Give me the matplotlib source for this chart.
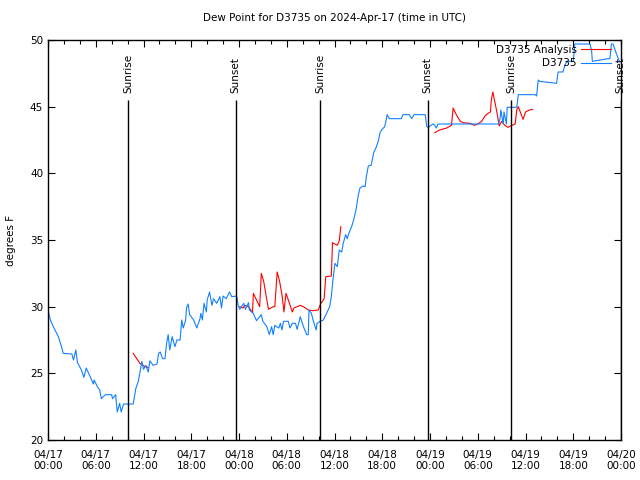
import numpy as np
import matplotlib
matplotlib.use("Agg")
import matplotlib.pyplot as plt

# hours since 04/17 00:00 UTC, dew point in degrees F
obs_hours = [0.0, 0.3, 0.67, 1.3, 1.7, 1.9, 3.0, 3.2, 3.5, 3.7, 4.2, 4.5, 4.8, 5.3, 5.7, 5.8,
             6.2, 6.5, 6.7, 7.2, 8.0, 8.1, 8.5, 8.7, 9.0, 9.2, 9.5, 10.7, 11.05, 11.35, 11.6,
             11.8, 12.0, 12.3, 12.6, 12.8, 13.2, 13.7, 13.9, 14.1, 14.4, 14.7, 14.9, 15.1,
             15.3, 15.6, 15.95, 16.2, 16.6, 16.8, 17.0, 17.3, 17.4, 17.6, 17.8, 18.3, 18.7,
             19.1, 19.2, 19.4, 19.6, 19.9, 20.0, 20.3, 20.6, 20.8, 21.2, 21.6, 21.8, 22.0,
             22.4, 22.8, 23.1, 23.7, 23.9, 24.1, 24.3, 24.6, 24.8, 25.2, 25.3, 25.8, 26.2,
             26.8, 27.0, 27.5, 27.8, 28.1, 28.3, 28.5, 29.0, 29.2, 29.4, 29.6, 30.2, 30.4,
             30.7, 31.1, 31.3, 31.5, 31.7, 32.1, 32.5, 32.7, 32.8, 33.1, 33.3, 33.7, 33.8,
             34.2, 34.6, 34.8, 35.0, 35.2, 35.4, 35.6, 35.8, 36.05, 36.35, 36.6, 36.9, 37.1,
             37.4, 37.6, 37.8, 38.15, 38.4, 38.7, 39.0, 39.2, 39.6, 39.85, 40.0, 40.25, 40.6,
             40.95, 41.2, 41.5, 41.7, 41.9, 42.3, 42.5, 42.6, 42.9, 44.4, 44.6, 45.4, 45.7,
             46.0, 47.4, 47.6, 47.8, 48.1, 48.4, 48.6, 48.8, 49.0, 56.6, 56.8, 56.9, 57.2,
             57.3, 57.6, 57.7, 58.9, 59.1, 61.2, 61.4, 61.6, 61.8, 63.9, 64.1, 64.7, 64.95,
             65.2, 66.0, 66.2, 68.1, 68.3, 68.4, 70.4, 70.6, 70.8, 71.0, 71.4, 71.8]
obs_dewpt = [29.75, 29.0, 28.5, 27.75, 27.0, 26.5, 26.45, 26.0, 26.75, 25.8, 25.25, 24.7, 25.4,
             24.75, 24.2, 24.5, 24.0, 23.75, 23.1, 23.4, 23.4, 23.1, 23.4, 22.1, 22.75, 22.1,
             22.7, 22.7, 23.9, 24.4, 25.25, 25.9, 25.3, 25.6, 25.1, 25.95, 25.6, 25.7, 26.5,
             26.6, 26.1, 26.1, 27.25, 27.9, 26.75, 27.75, 27.0, 27.5, 27.5, 29.0, 28.4, 29.0,
             29.9, 30.2, 29.4, 29.0, 28.4, 29.1, 29.5, 29.0, 30.25, 29.6, 30.5, 31.1, 30.1,
             30.6, 30.25, 30.75, 29.9, 30.8, 30.6, 31.1, 30.75, 30.8, 30.1, 29.8, 30.0, 30.25,
             29.8, 30.3, 29.75, 29.5, 28.95, 29.4, 28.9, 28.5, 27.9, 28.5, 27.9, 28.6, 28.4,
             28.75, 28.25, 28.9, 28.9, 28.4, 28.75, 28.75, 28.3, 28.75, 29.25, 28.5, 27.9,
             27.9, 29.75, 29.5, 29.0, 28.25, 28.75, 28.9, 29.0, 29.25, 29.5, 29.75, 30.0,
             30.75, 32.0, 33.25, 33.0, 34.25, 34.1, 34.75, 35.4, 35.1, 35.5, 36.0, 36.5, 37.25,
             38.4, 38.9, 39.05, 39.0, 39.75, 40.55, 40.6, 41.6, 41.9, 42.4, 43.0, 43.25, 43.5,
             44.0, 44.4, 44.1, 44.1, 44.4, 44.4, 44.1, 44.4, 44.4, 43.5, 43.45, 43.6, 43.7,
             43.6, 43.4, 43.7, 43.7, 44.1, 44.75, 43.7, 44.6, 43.7, 44.95, 44.95, 45.9, 45.9,
             45.8, 47.0, 46.9, 46.75, 47.6, 47.6, 48.1, 48.4, 48.4, 49.7, 49.7, 49.25, 48.4,
             48.6, 48.6, 49.7, 49.7, 49.0, 48.4]

# analysis series, NaN marks the gaps
ana_hours = [10.7, 11.55, 12.2, 12.6, np.nan,
             24.1, 24.5, 24.7, 25.2, 25.7, 25.8, 26.6, 26.8, 27.1, 27.7, 28.3, 28.5, 28.8,
             29.1, 29.4, 29.65, 29.9, 30.2, 30.7, 30.9, 31.7, 32.1, 32.7, 33.3, 33.95, 34.25,
             34.7, 34.9, 35.6, 35.75, 36.35, 36.6, 36.7, 36.8, np.nan,
             48.6, 49.2, 50.1, 50.7, 50.9, 51.3, 51.8, 52.2, 53.0, 53.6, 54.0, 54.5, 54.9,
             55.3, 55.6, 55.7, 55.9, 56.1, 56.4, 56.6, 56.7, 57.0, 57.4, 57.8, 58.3, 58.7,
             58.9, 59.1, 59.4, 59.7, 60.0, 60.5, 60.9]
ana_dewpt = [26.5, 25.75, 25.5, 25.45, np.nan,
             30.0, 29.9, 30.1, 30.0, 29.55, 31.0, 30.0, 32.5, 31.9, 29.8, 30.0, 30.0, 32.6,
             31.9, 30.9, 29.6, 31.0, 30.5, 29.6, 29.9, 30.1, 30.0, 29.75, 29.7, 29.75, 30.2,
             30.6, 32.25, 32.3, 34.8, 34.6, 34.95, 35.5, 36.0, np.nan,
             43.05, 43.25, 43.4, 43.6, 44.9, 44.4, 43.9, 43.8, 43.75, 43.6, 43.7, 43.9, 44.3,
             44.5, 44.6, 45.5, 46.1, 45.5, 44.6, 43.9, 43.55, 43.9, 43.6, 43.45, 43.6, 43.7,
             44.75, 45.0, 44.5, 44.05, 44.6, 44.75, 44.8]

sun_hours = [10.05, 23.6, 34.2, 47.7, 58.2, 71.95]
sun_labels = ["Sunrise", "Sunset", "Sunrise", "Sunset", "Sunrise", "Sunset"]

tick_hours = [0, 6, 12, 18, 24, 30, 36, 42, 48, 54, 60, 66, 72]
tick_labels = ["04/17\n00:00", "04/17\n06:00", "04/17\n12:00", "04/17\n18:00",
               "04/18\n00:00", "04/18\n06:00", "04/18\n12:00", "04/18\n18:00",
               "04/19\n00:00", "04/19\n06:00", "04/19\n12:00", "04/19\n18:00",
               "04/20\n00:00"]

plt.rcParams['font.family'] = ['DejaVu Sans']
fs = 7.5

fig = plt.figure(figsize=(6.4, 4.8), dpi=100)
ax = fig.add_axes([48/640, 40/480, 573/640, 400/480])

ax.plot(ana_hours, ana_dewpt, color="red", lw=0.8, label="D3735 Analysis")
ax.plot(obs_hours, obs_dewpt, color="#1080ff", lw=0.8, label="D3735")

ax.vlines(sun_hours, 20, 45.5, color="black", lw=1)
for h, s in zip(sun_hours, sun_labels):
    ax.text(h, 46.05, s, rotation=90, ha="center", va="bottom", fontsize=fs)

ax.set_xlim(0, 72)
ax.set_ylim(20, 50)
ax.set_xticks(tick_hours)
ax.set_xticklabels(tick_labels, fontsize=fs)
ax.set_xticks(np.arange(0, 73, 2), minor=True)
ax.set_yticks([20, 25, 30, 35, 40, 45, 50])
ax.tick_params(axis="y", labelsize=fs)
ax.tick_params(which="both", direction="in", top=True, right=True, width=0.8)
ax.tick_params(which="major", length=5)
ax.tick_params(which="minor", length=3)
ax.tick_params(axis="x", pad=7)
for sp in ax.spines.values():
    sp.set_linewidth(1)

ax.set_ylabel("degrees F", fontsize=fs, labelpad=10)
ax.set_title("Dew Point for D3735 on 2024-Apr-17 (time in UTC)", fontsize=fs, pad=14)

ax.legend(loc="upper right", bbox_to_anchor=(0.985, 0.99), frameon=False,
          markerfirst=False, fontsize=fs, handlelength=2.9, borderaxespad=0,
          borderpad=0.1, labelspacing=0.3, handletextpad=0.4)

fig.savefig("out.png", dpi=100)
